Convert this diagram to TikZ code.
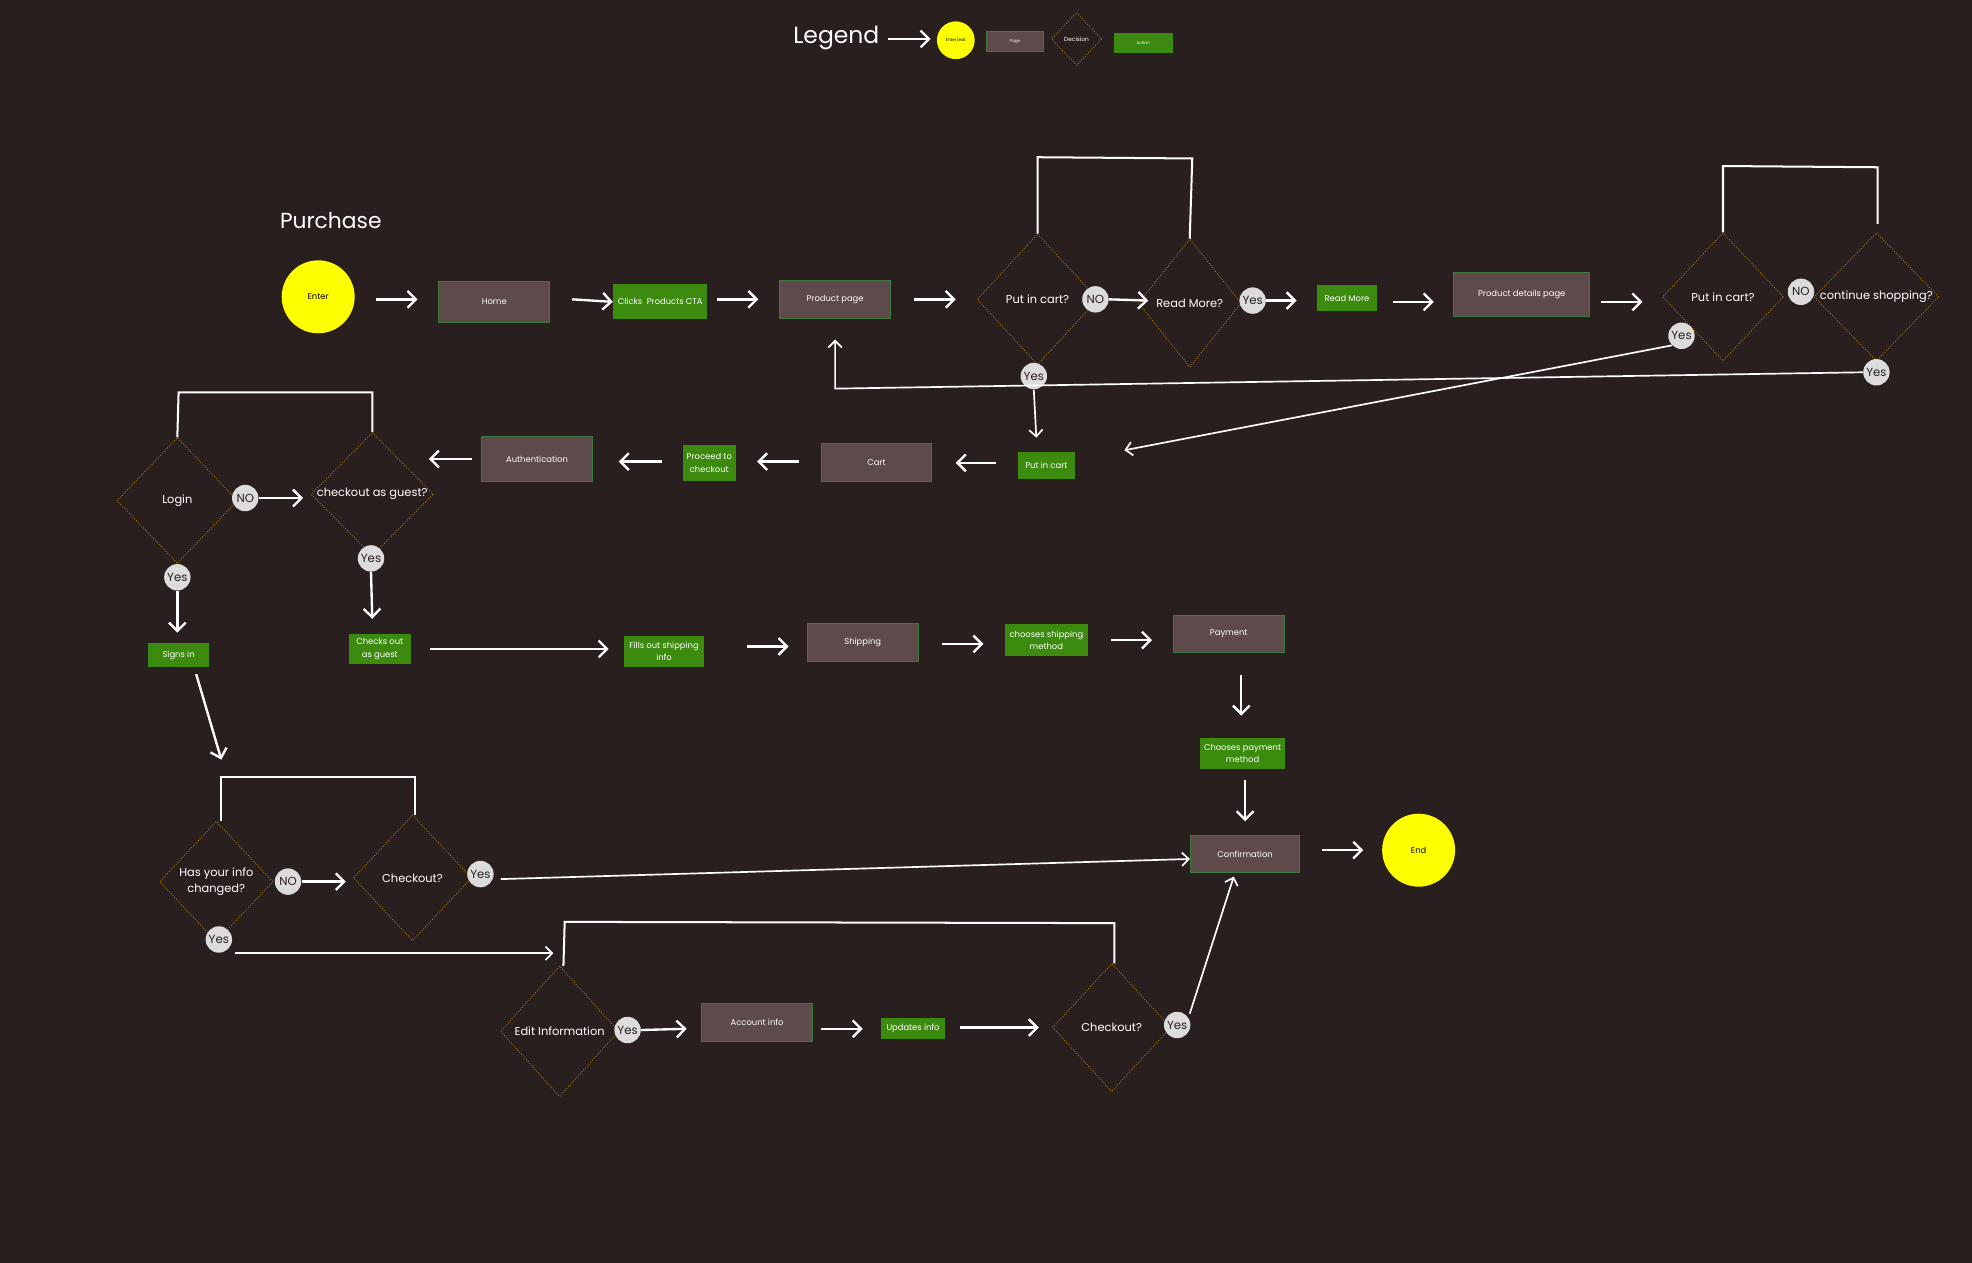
\documentclass[tikz,border=0pt]{standalone}
\usepackage{fontspec}
\setmainfont{Poppins}
\usetikzlibrary{shapes.geometric,arrows.meta}
\definecolor{bg}{HTML}{2A1F1F}
\definecolor{pagef}{HTML}{5E4A4A}
\definecolor{pageb}{HTML}{3E7A3E}
\definecolor{act}{HTML}{3C8A0E}
\definecolor{dia}{HTML}{B8860B}
\definecolor{yes}{HTML}{DCDCDC}
\definecolor{yel}{HTML}{FFFF00}
\begin{document}
\begin{tikzpicture}[x=0.75pt,y=-0.75pt,
  page/.style 2 args={draw=pageb,line width=0.6pt,fill=pagef,text=white,font=\fontsize{5}{6}\selectfont,inner sep=0,minimum width=#1*0.75pt,minimum height=#2*0.75pt},
  act/.style 2 args={fill=act,text=white,font=\fontsize{5}{7.5}\selectfont,inner sep=0,align=center,minimum width=#1*0.75pt,minimum height=#2*0.75pt},
  dec/.style 2 args={shape=diamond,draw=dia,densely dotted,line width=0.5pt,text=white,font=\fontsize{6.8}{10}\selectfont,align=center,inner sep=0,minimum width=#1*0.75pt,minimum height=#2*0.75pt},
  term/.style={circle,fill=yel,text=black,font=\fontsize{5}{6}\selectfont,inner sep=0,minimum size=#1*0.75pt},
  yn/.style={circle,fill=yes,text=bg,font=\fontsize{7}{8}\selectfont,inner sep=0,minimum size=21*0.75pt},
  arr/.style={draw=white,line width=1.4pt,-{Straight Barb[length=5pt,width=10pt]}},
  tarr/.style={draw=white,line width=1pt,-{Straight Barb[length=4pt,width=8pt]}},
  ln/.style={draw=white,line width=1.2pt}]
\fill[bg] (0,0) rectangle (1568,1004);
\useasboundingbox (0,0) rectangle (1568,1004);
% legend
\node[text=white,font=\fontsize{14}{17}\selectfont] (leg) at (665,30) {Legend};
\coordinate (la) at (706,31);
\coordinate (lb) at (740,31);
\node[term=30,font=\fontsize{2.5}{3}\selectfont] (lc) at (760,32) {Enter/exit};
\draw[arr] (la) -- (lb);
\node[page={46}{16},font=\fontsize{2.5}{3}\selectfont] (lp) at (807,33) {Page};
\node[dec={40}{42},font=\fontsize{3.5}{4}\selectfont] (ld) at (856,31) {Decision};
\node[act={47}{16},font=\fontsize{2.5}{3}\selectfont] (lac) at (909,34) {Action};
\node[text=white,font=\fontsize{13}{16}\selectfont] (pur) at (263,175) {Purchase};
% row 1
\node[term=58] (enter) at (253,236) {Enter};
\node[page={88}{33}] (home) at (393,240) {Home};
\node[act={75}{28}] (cta) at (525,240) {Clicks \ Products CTA};
\node[page={88}{30}] (pp) at (664,238) {Product page};
\node[dec={96}{104}] (d1) at (825,238) {Put in cart?};
\node[yn] (no1) at (871,238) {NO};
\node[dec={82}{102}] (d2) at (946,241) {Read More?};
\node[yn] (y2) at (996,239) {Yes};
\node[act={47}{20}] (rm) at (1071,237) {Read More};
\node[page={108}{35}] (pdp) at (1210,234) {Product details page};
\node[dec={96}{102}] (d3) at (1370,236) {Put in cart?};
\node[yn] (no3) at (1432,232) {NO};
\node[dec={96}{102}] (d4) at (1492,236) {continue shopping?};
\node[yn] (y3) at (1337,267) {Yes};
\node[yn] (y4) at (1492,296) {Yes};
\node[yn] (y1) at (822,299) {Yes};
\draw[arr] (299,238) -- (332,238);
\draw[arr] (455,238) -- (cta.west);
\draw[arr] (570,238) -- (603,238);
\draw[arr] (727,238) -- (760,238);
\draw[arr] (no1.east) -- (913,239);
\draw[arr] (y2.east) -- (1031,239);
\draw[arr] (1108,240) -- (1140,240);
\draw[arr] (1273,240) -- (1306,240);
\draw[ln] (d1.north) -- (825,125) -- (948,126) -- (d2.north);
\draw[ln] (d3.north) -- (1370,132) -- (1493,133) -- (1493,178);
\coordinate (pcb) at (664,270);
\draw[tarr] (y4.west) -- (664,309) -- (pcb);
\coordinate (pcart) at (894,358);
\draw[tarr] (y3.south west) -- (pcart);
% row 2
\node[act={45}{21}] (pic) at (832,370) {Put in cart};
\draw[tarr] (y1.south) -- (824,348);
\node[page={88}{30}] (cart) at (697,368) {Cart};
\node[act={42}{29}] (ptc) at (564,368) {Proceed to\\checkout};
\node[page={88}{36}] (auth) at (427,365) {Authentication};
\draw[arr] (792,368) -- (760,368);
\draw[arr] (635,367) -- (602,367);
\draw[arr] (526,367) -- (492,367);
\draw[arr] (375,365) -- (341,365);
\node[dec={96}{98}] (dg) at (296,393) {checkout as guest?};
\node[dec={96}{100}] (dl) at (141,398) {Login};
\draw[ln] (dl.north) -- (142,312) -- (296,312) -- (dg.north);
\node[yn] (nol) at (195,396) {NO};
\draw[arr] (nol.east) -- (241,396);
\node[yn] (yl) at (141,459) {Yes};
\node[yn] (yg) at (295,444) {Yes};
\draw[arr] (yl.south) -- (141,503);
\draw[arr] (yg.south) -- (296,492);
% row 3
\node[act={48}{19}] (si) at (142,521) {Signs in};
\node[act={49}{24}] (cog) at (302,516) {Checks out\\as guest};
\node[act={63}{25}] (fsi) at (528,518) {Fills out shipping\\info};
\node[page={88}{30}] (ship) at (686,511) {Shipping};
\node[act={66}{25}] (csm) at (832,509) {chooses shipping\\method};
\node[page={88}{30}] (pay) at (977,504) {Payment};
\draw[arr] (342,516) -- (484,516);
\draw[arr] (594,514) -- (627,514);
\draw[arr] (749,512) -- (782,512);
\draw[arr] (883,509) -- (916,509);
\node[act={67}{25}] (cpm) at (988,599) {Chooses payment\\method};
\draw[arr] (987,537) -- (987,569);
\draw[arr] (990,620) -- (990,653);
\node[page={87}{30}] (conf) at (990,679) {Confirmation};
\node[term=58] (endn) at (1128,676) {End};
\draw[arr] (1051,676) -- (1084,676);
% row 4
\coordinate (hic) at (176,604);
\draw[arr] (156,536) -- (hic);
\node[dec={90}{96}] (dh) at (172,701) {Has your info\\changed?};
\node[dec={94}{100}] (dc1) at (328,698) {Checkout?};
\draw[ln] (176,653) -- (176,618) -- (330,618) -- (330,648);
\node[yn] (noh) at (229,701) {NO};
\draw[arr] (noh.east) -- (275,701);
\node[yn] (yc1) at (382,695) {Yes};
\draw[tarr] (398,699) -- (conf.west |- 0,683);
\node[yn] (yh) at (174,747) {Yes};
\coordinate (eic) at (440,758);
\draw[tarr] (187,758) -- (eic);
% row 5
\node[dec={94}{104}] (de) at (445,820) {Edit Information};
\draw[ln] (448,768) -- (449,733) -- (886,734) -- (886,766);
\node[yn] (ye) at (499,819) {Yes};
\draw[arr] (ye.east) -- (546,818);
\node[page={88}{30}] (ai) at (602,813) {Account info};
\draw[arr] (653,818) -- (686,818);
\node[act={51}{17}] (ui) at (726,818) {Updates info};
\draw[arr] (763,817) -- (826,817);
\node[dec={94}{102}] (dc2) at (884,817) {Checkout?};
\node[yn] (yc2) at (936,815) {Yes};
\draw[tarr] (946,806) -- (981,697);
\end{tikzpicture}
\end{document}
